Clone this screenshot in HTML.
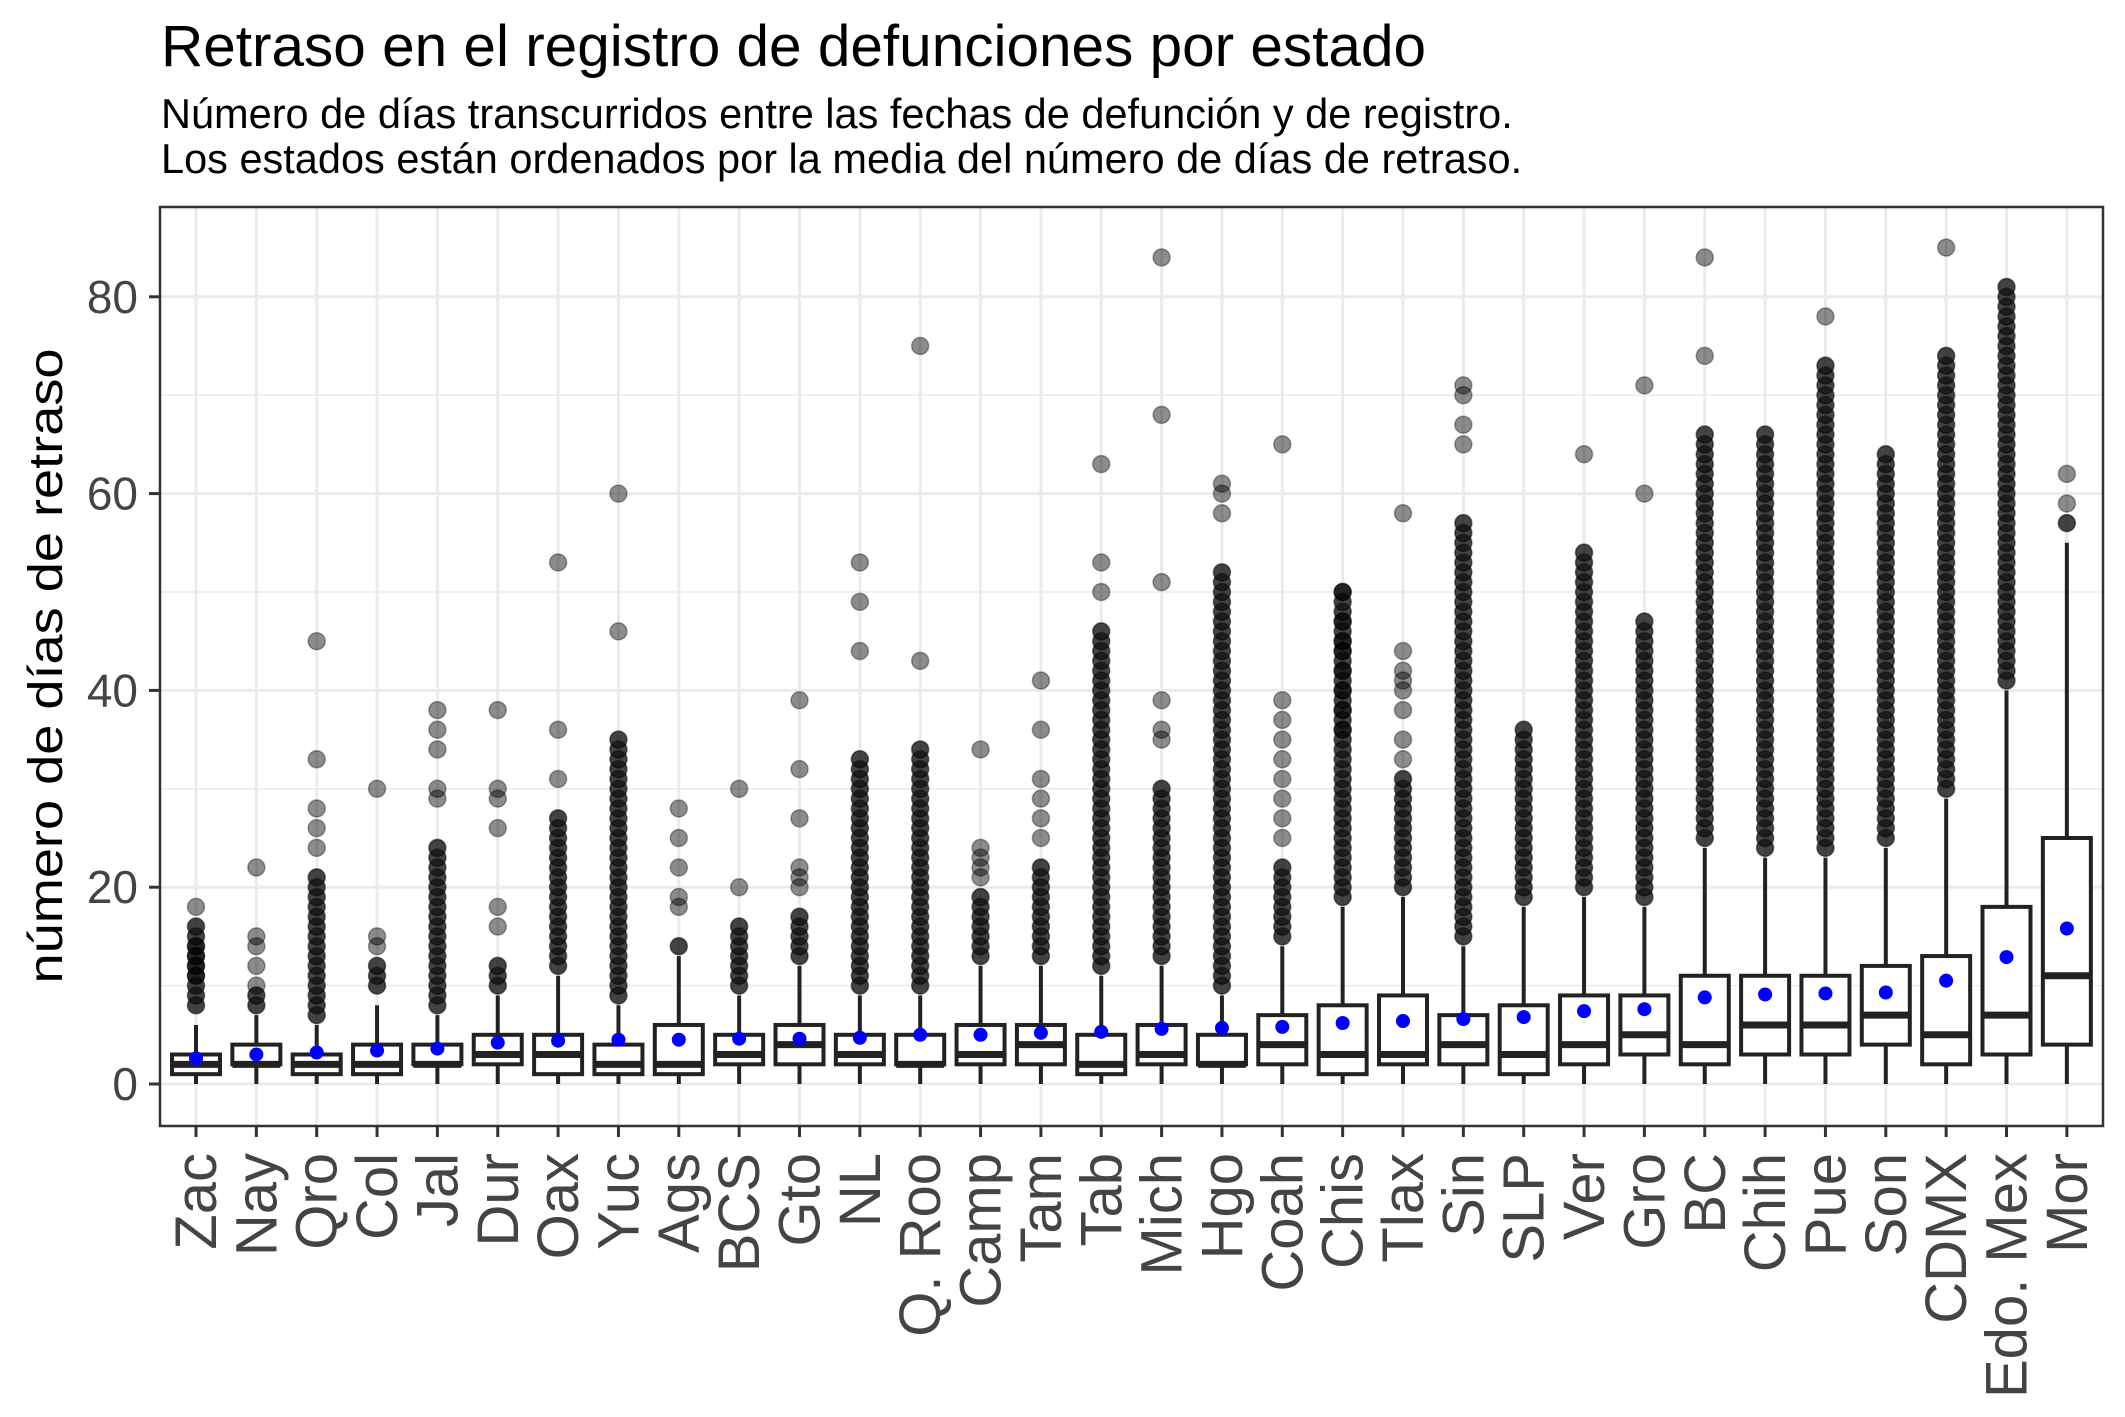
<!DOCTYPE html>
<html><head><meta charset="utf-8"><style>
html,body{margin:0;padding:0;background:#fff;}
svg{display:block;font-family:"Liberation Sans",Arial,sans-serif;}
</style></head>
<body>
<svg id="chart" width="2125" height="1417" viewBox="0 0 2125 1417" xmlns="http://www.w3.org/2000/svg">
<rect width="2125" height="1417" fill="#fff"/>
<text x="161" y="66" font-size="58.5" fill="#000">Retraso en el registro de defunciones por estado</text>
<text x="161" y="128" font-size="41.5" fill="#000">Número de días transcurridos entre las fechas de defunción y de registro.</text>
<text x="161" y="173" font-size="41.5" fill="#000">Los estados están ordenados por la media del número de días de retraso.</text>
<g id="grid"></g>
<g id="marks"></g>
<rect x="160" y="207" width="1943" height="919" fill="none" stroke="#333" stroke-width="2.5"/>
<g id="axes"></g>
<text transform="translate(62,666) rotate(-90)" text-anchor="middle" font-size="48" fill="#000" textLength="635" lengthAdjust="spacingAndGlyphs">número de días de retraso</text>
</svg>
<script>
const states = ["Zac","Nay","Qro","Col","Jal","Dur","Oax","Yuc","Ags","BCS","Gto","NL","Q. Roo","Camp","Tam","Tab","Mich","Hgo","Coah","Chis","Tlax","Sin","SLP","Ver","Gro","BC","Chih","Pue","Son","CDMX","Edo. Mex","Mor"];
const q1 =     [1,2,1,1,2,2,1,1,1,2,2,2,2,2,2,1,2,2,2,1,2,2,1,2,3,2,3,3,4,2,3,4];
const median = [2,2,2,2,2,3,3,2,2,3,4,3,2,3,4,2,3,2,4,3,3,4,3,4,5,4,6,6,7,5,7,11];
const q3 =     [3,4,3,4,4,5,5,4,6,5,6,5,5,6,6,5,6,5,7,8,9,7,8,9,9,11,11,11,12,13,18,25];
const whiskLo =[0,0,0,0,0,0,0,0,0,0,0,0,0,0,0,0,0,0,0,0,0,0,0,0,0,0,0,0,0,0,0,0];
const whiskHi =[6,7,6,8,7,9,11,8,13,9,12,9,9,12,12,11,12,9,14,18,19,14,18,19,18,24,23,23,24,29,40,55];
const means =  [2.6,3.0,3.2,3.4,3.6,4.2,4.4,4.5,4.5,4.6,4.6,4.7,5.0,5.0,5.2,5.3,5.6,5.7,5.8,6.2,6.4,6.6,6.8,7.4,7.6,8.8,9.1,9.2,9.3,10.5,12.9,15.8];
const denseLo =[8,8,7,10,8,10,12,9,14,10,13,10,10,13,13,12,13,10,15,19,20,15,19,20,19,25,24,24,25,30,41,57];
const denseHi =[16,9,21,12,24,12,27,35,14,16,17,33,34,19,22,46,30,52,22,50,31,57,36,54,47,66,66,73,64,74,81,57];
const extraOut = [[11,12,13,14,18],[10,12,14,15,22],[24,26,28,33,45],[14,15,30],[29,30,34,36,38],[16,18,26,29,30,38],[31,36,53],[46,60],[18,19,22,25,28],[20,30],[20,21,22,27,32,39],[44,49,53],[43,75],[21,22,23,24,34],[25,27,29,31,36,41],[50,53,63],[35,36,39,51,68,84],[58,60,61],[25,27,29,31,33,35,37,39,65],[36,38,40,42,44,45,47,50],[33,35,38,40,41,42,44,58],[65,67,70,71],[],[64],[60,71],[74,84],[],[78],[],[85],[],[59,62]];
const yTicks = [0,20,40,60,80];
const yMinor = [10,30,50,70];

const NS="http://www.w3.org/2000/svg";
const PX0=160, PX1=2103, PY0=207, PY1=1126;
function yScale(v){ return 1084 - v*9.84; }
function xScale(i){ return 196 + i*60.35; }
function mk(tag, attrs, parent){ const e=document.createElementNS(NS,tag); for(const k in attrs) e.setAttribute(k,attrs[k]); parent.appendChild(e); return e; }
const grid=document.getElementById('grid'), marks=document.getElementById('marks'), axes=document.getElementById('axes');
mk('rect',{x:PX0,y:PY0,width:PX1-PX0,height:PY1-PY0,fill:'#fff'},grid);
yMinor.forEach(v=>{ const l=mk('line',{x1:PX0,x2:PX1,y1:yScale(v),y2:yScale(v),stroke:'#ebebeb','stroke-width':1.5},grid);

});
yTicks.forEach(v=>{ const l=mk('line',{x1:PX0,x2:PX1,y1:yScale(v),y2:yScale(v),stroke:'#ebebeb','stroke-width':3},grid);


const t=mk('line',{x1:149,x2:160,y1:yScale(v),y2:yScale(v),stroke:'#333','stroke-width':3},axes);


const tx=mk('text',{x:138,y:yScale(v)+16,'text-anchor':'end','font-size':46,fill:'#444'},axes);
tx.textContent=v;

});
const BW=48;
states.forEach((s,i)=>{
  const x=xScale(i);
  const g=mk('line',{x1:x,x2:x,y1:PY0,y2:PY1,stroke:'#ebebeb','stroke-width':3},grid);
  
  
  const grp=mk('g',{},marks);
  
  
  const w1=mk('line',{x1:x,x2:x,y1:yScale(q3[i]),y2:yScale(whiskHi[i]),stroke:'#222','stroke-width':4},grp);
  
  
  const w2=mk('line',{x1:x,x2:x,y1:yScale(q1[i]),y2:yScale(whiskLo[i]),stroke:'#222','stroke-width':4},grp);
  
  
  const b=mk('rect',{x:x-BW/2,y:yScale(q3[i]),width:BW,height:yScale(q1[i])-yScale(q3[i]),fill:'#fff',stroke:'#222','stroke-width':4},grp);
  
  
  const m=mk('line',{x1:x-BW/2,x2:x+BW/2,y1:yScale(median[i]),y2:yScale(median[i]),stroke:'#222','stroke-width':7},grp);
  
  
  for(let v=denseLo[i]; v<=denseHi[i]; v++){
    const c=mk('circle',{cx:x,cy:yScale(v),r:8.5,fill:'rgba(20,20,20,0.8)',stroke:'rgba(0,0,0,0.5)','stroke-width':1.5},grp);
    
    
  }
  extraOut[i].forEach(v=>{
    const c=mk('circle',{cx:x,cy:yScale(v),r:8.5,fill:'rgba(0,0,0,0.45)',stroke:'rgba(0,0,0,0.35)','stroke-width':1.5},grp);
    
    
  });
  const md=mk('circle',{cx:x,cy:yScale(means[i]),r:7,fill:'#0000ff'},grp);
  
  
  const t=mk('line',{x1:x,x2:x,y1:PY1,y2:PY1+11,stroke:'#333','stroke-width':3},axes);
  
  
  const lx=x+20;
  const tx=mk('text',{x:lx,y:1153,transform:'rotate(-90 '+lx+' 1153)','text-anchor':'end','font-size':58,fill:'#444'},axes);
  tx.textContent=s;
  
  
});
</script>
</body></html>
